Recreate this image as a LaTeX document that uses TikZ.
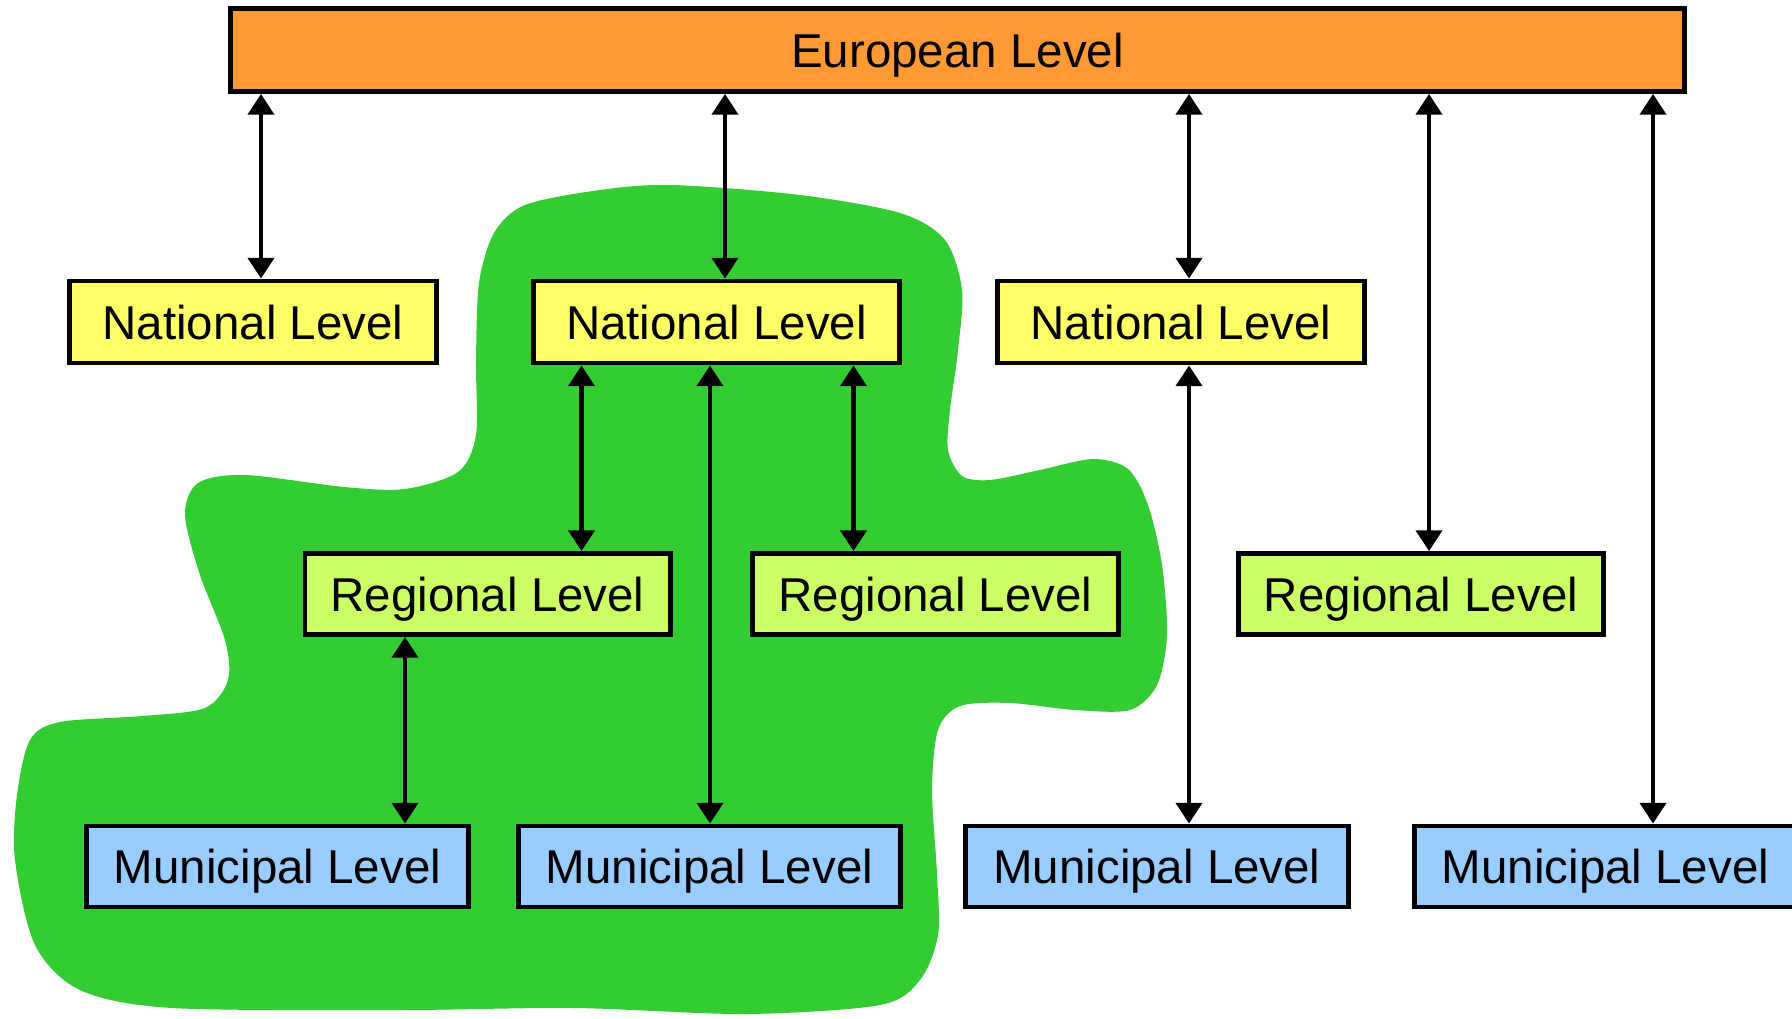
\documentclass[tikz,border=0pt]{standalone}
\usepackage{fontspec}
\setmainfont{Liberation Sans}
\usetikzlibrary{arrows.meta}
\definecolor{eurorange}{HTML}{FF9933}
\definecolor{natyellow}{HTML}{FFFF66}
\definecolor{reglime}{HTML}{CCFF66}
\definecolor{munblue}{HTML}{99CCFF}
\definecolor{blobgreen}{HTML}{33CC33}
\begin{document}
\begin{tikzpicture}
[x=0.01cm, y=-0.01cm,
  levelbox/.style={shape=rectangle,draw,line width=1.4pt,inner sep=0pt,%
    minimum height=0.81cm,text height=0.34cm,text depth=0pt,%
    font=\fontsize{13.5}{16}\selectfont},%
  linedecorate/.style={<->,line width=1.2pt},%
  >={Triangle[length=5.9pt,width=7.4pt]}]
\useasboundingbox (0,0) rectangle (1792,1019);
%%
%% green area
\fill[blobgreen] plot[smooth cycle] coordinates {
  (672,185) (800,195) (900,213) (945,240) (962,290) (958,350) (950,410)
  (948,450) (962,476) (990,480) (1040,470) (1093,459) (1128,469)
  (1148,505) (1162,565) (1167,635) (1157,685) (1130,710) (1075,710)
  (1010,703) (960,706) (938,730) (932,790) (937,874) (938,935) (920,980)
  (880,1005) (746,1014) (574,1008) (402,1010) (172,1008) (80,990)
  (35,945) (15,860) (17,795) (30,740) (60,722) (143,716) (205,708)
  (228,680) (225,640) (200,575) (185,515) (198,483) (245,475) (344,487)
  (405,489) (458,472) (476,435) (476,360) (479,283) (494,233) (525,205)
  (600,190)};
%%
%% levels
\node (eur) at (957.5,50) [levelbox,fill=eurorange,minimum width=14.54cm,
  minimum height=0.83cm] {European Level};
\foreach \nodename/\x in {nat1/253, nat2/716.5, nat3/1181} {
  \node (\nodename) at (\x,322) [levelbox,fill=natyellow,minimum width=3.66cm,
    minimum height=0.82cm] {National Level};
}
\foreach \nodename/\x in {reg1/487.6, reg2/935.5, reg3/1421} {
  \node (\nodename) at (\x,594) [levelbox,fill=reglime,minimum width=3.65cm]
    {Regional Level};
}
\foreach \nodename/\x in {mun1/277.5, mun2/709.5, mun3/1157, mun4/1605.5} {
  \node (\nodename) at (\x,866.5) [levelbox,fill=munblue,minimum width=3.82cm]
    {Municipal Level};
}
%%
%% arrows
\path
\foreach \startnode/\endnode/\x in {eur/nat1/261, eur/nat2/725, eur/nat3/1189,
  eur/reg3/1429, eur/mun4/1653, nat2/reg1/581.5, nat2/mun2/710,
  nat2/reg2/853.5, nat3/mun3/1189, reg1/mun1/405} {
  (\startnode.south -| \x,0) edge[linedecorate] (\endnode.north -| \x,0)
};
\end{tikzpicture}
\end{document}
